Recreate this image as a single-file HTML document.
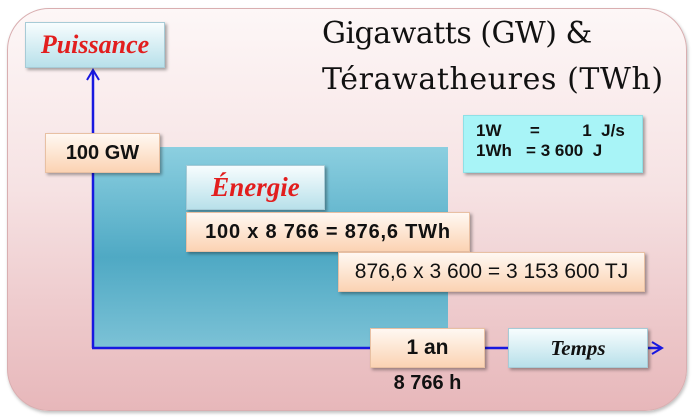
<!DOCTYPE html>
<html><head><meta charset="utf-8"><style>
body{margin:0;width:693px;height:417px;background:#fff;position:relative;overflow:hidden;font-family:"Liberation Sans",sans-serif}
.panel{position:absolute;left:7px;top:8px;width:678px;height:401px;border-radius:42px;background:linear-gradient(#fdf7f7 0%,#f6e2e3 45%,#e7b7ba 100%);border:1px solid #d9aeb0;box-shadow:1px 2px 3px rgba(0,0,0,.25)}
.b{position:absolute;box-sizing:border-box;box-shadow:2px 2px 3px rgba(0,0,0,.35);display:flex;align-items:center;justify-content:center;font-weight:bold;color:#111;white-space:nowrap}
.blue{background:linear-gradient(#f7fdfe,#b8e0ea);border:1px solid #a7cbd6}
.orange{background:linear-gradient(#fff8f2,#fbd3b3);border:1px solid #e8c0a3}
.red{color:#e21e1e;font-family:"Liberation Serif",serif;font-style:italic;font-size:26px}
.t{position:absolute;font-family:"DejaVu Serif","Liberation Serif",serif;font-size:30px;color:#111;left:322px;white-space:nowrap}
</style></head><body>
<div class="panel"></div>
<div class="t" style="top:16px;letter-spacing:-0.5px">Gigawatts (GW) &amp;</div>
<div class="t" style="top:62px;letter-spacing:0.6px">Térawatheures (TWh)</div>
<div style="position:absolute;left:93px;top:147px;width:355px;height:201px;background:linear-gradient(#8ccfe0,#4fa9c4 55%,#7cc2d6);"></div>
<svg style="position:absolute;left:0;top:0" width="693" height="417">
<line x1="93" y1="348" x2="93" y2="72" stroke="#1818e0" stroke-width="2.5"/>
<polyline points="87,80 93,70 99,80" fill="none" stroke="#1818e0" stroke-width="2"/>
<line x1="92" y1="348" x2="660" y2="348" stroke="#1818e0" stroke-width="2.5"/>
<polyline points="652,342 662,348 652,354" fill="none" stroke="#1818e0" stroke-width="2"/>
</svg>
<div class="b blue red" style="left:25px;top:22px;width:140px;height:46px">Puissance</div>
<div class="b orange" style="left:45px;top:133px;width:115px;height:40px;font-size:20px">100 GW</div>
<div class="b blue red" style="left:186px;top:165px;width:139px;height:45px;font-size:27px">Énergie</div>
<div class="b orange" style="left:186px;top:212px;width:284px;height:40px;font-size:20px;letter-spacing:0.8px">100 x 8 766 = 876,6 TWh</div>
<div class="b orange" style="left:338px;top:252px;width:307px;height:40px;font-size:21px;font-weight:normal">876,6 x 3 600 = 3 153 600 TJ</div>
<div class="b orange" style="left:370px;top:328px;width:115px;height:40px;font-size:21px">1 an</div>
<div style="position:absolute;left:370px;top:372px;width:115px;text-align:center;font-weight:bold;font-size:20px;color:#111">8 766 h</div>
<div class="b blue" style="left:508px;top:328px;width:140px;height:40px;font-family:'Liberation Serif',serif;font-style:italic;font-weight:bold;font-size:21px">Temps</div>
<div class="b" style="left:463px;top:115px;width:180px;height:58px;background:#a8f4f7;border:1px solid #8fe0e6;display:block;padding:5px 0 0 12px;font-size:17px;line-height:20px;white-space:pre">1W      =         1  J/s
1Wh   = 3 600  J</div>
</body></html>
